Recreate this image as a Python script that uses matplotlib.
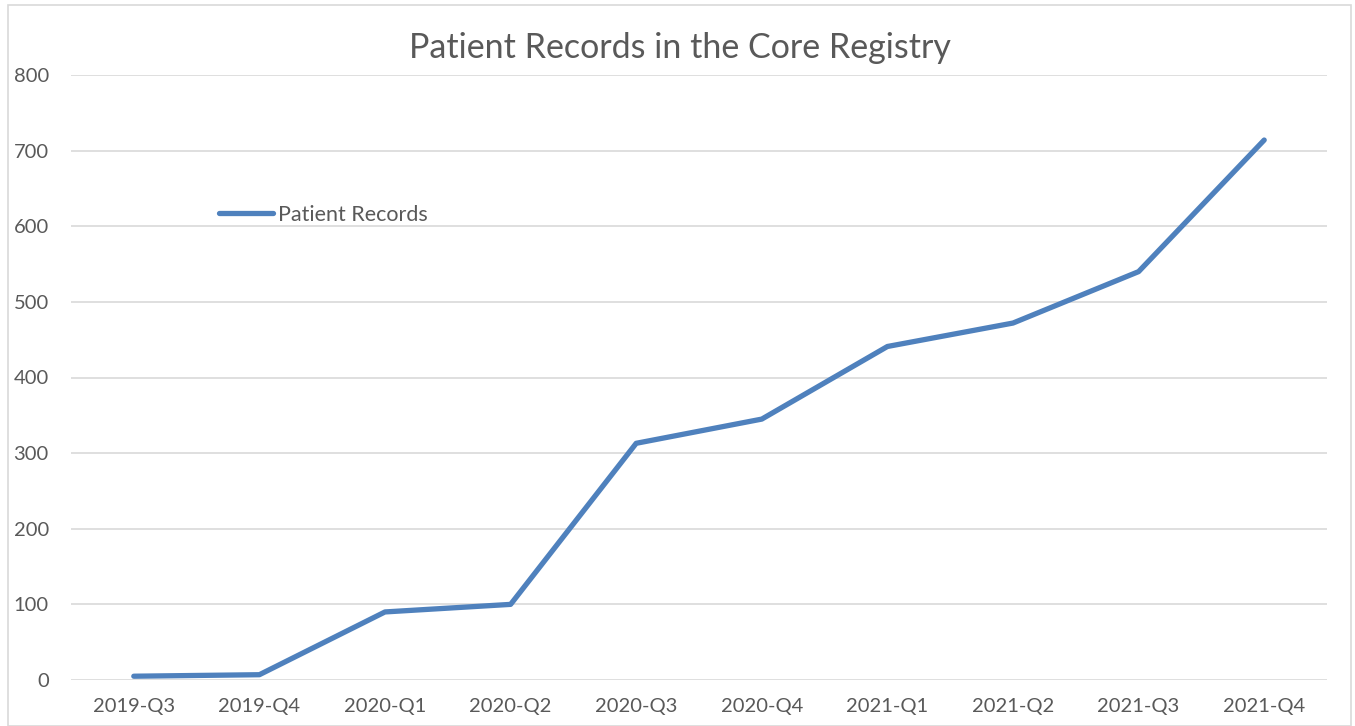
import matplotlib
matplotlib.use('Agg')
import matplotlib.pyplot as plt
from matplotlib.patches import Rectangle

quarters = ['2019-Q3', '2019-Q4', '2020-Q1', '2020-Q2', '2020-Q3',
            '2020-Q4', '2021-Q1', '2021-Q2', '2021-Q3', '2021-Q4']
records = [5, 7, 90, 100, 313, 345, 441, 472, 540, 714]
yticks = [0, 100, 200, 300, 400, 500, 600, 700, 800]

plt.rcParams['font.family'] = ['Lato', 'DejaVu Sans']
text_col = '#595959'

fig = plt.figure(figsize=(13.55, 7.26), dpi=100)
ax = fig.add_axes([71 / 1355, 1 - 680 / 726, (1327 - 71) / 1355, (680 - 75) / 726])

x = list(range(len(quarters)))
ax.plot(x, records, color='#4f81bd', lw=3.8, solid_capstyle='round',
        solid_joinstyle='round', label='Patient Records', zorder=3)

ax.set_xlim(-0.5, len(quarters) - 0.5)
ax.set_ylim(0, 800)
ax.set_yticks(yticks)
ax.set_xticks(x)
ax.set_xticklabels(quarters)
ax.grid(axis='y', color='#d9d9d9', lw=1.2)
ax.set_axisbelow(True)
for s in ax.spines.values():
    s.set_visible(False)
ax.tick_params(length=0, labelsize=14.5, labelcolor=text_col)
ax.tick_params(axis='y', pad=16)
ax.tick_params(axis='x', pad=13)

fig.text(680 / 1355, 1 - 48 / 726, 'Patient Records in the Core Registry',
         ha='center', va='center', fontsize=24.5, color=text_col)

leg = ax.legend(loc='center left', bbox_to_anchor=(208 / 1355, 1 - 215 / 726),
                bbox_transform=fig.transFigure, frameon=False, fontsize=15.5,
                handlelength=2.5, handletextpad=0.25, borderpad=0)
for t in leg.get_texts():
    t.set_color(text_col)

fig.patches.append(Rectangle((8 / 1355, 0), (1351 - 8) / 1355, 1 - 5 / 726,
                             transform=fig.transFigure, fill=False,
                             edgecolor='#d9d9d9', lw=1.2))

fig.savefig('out.png', dpi=100)
